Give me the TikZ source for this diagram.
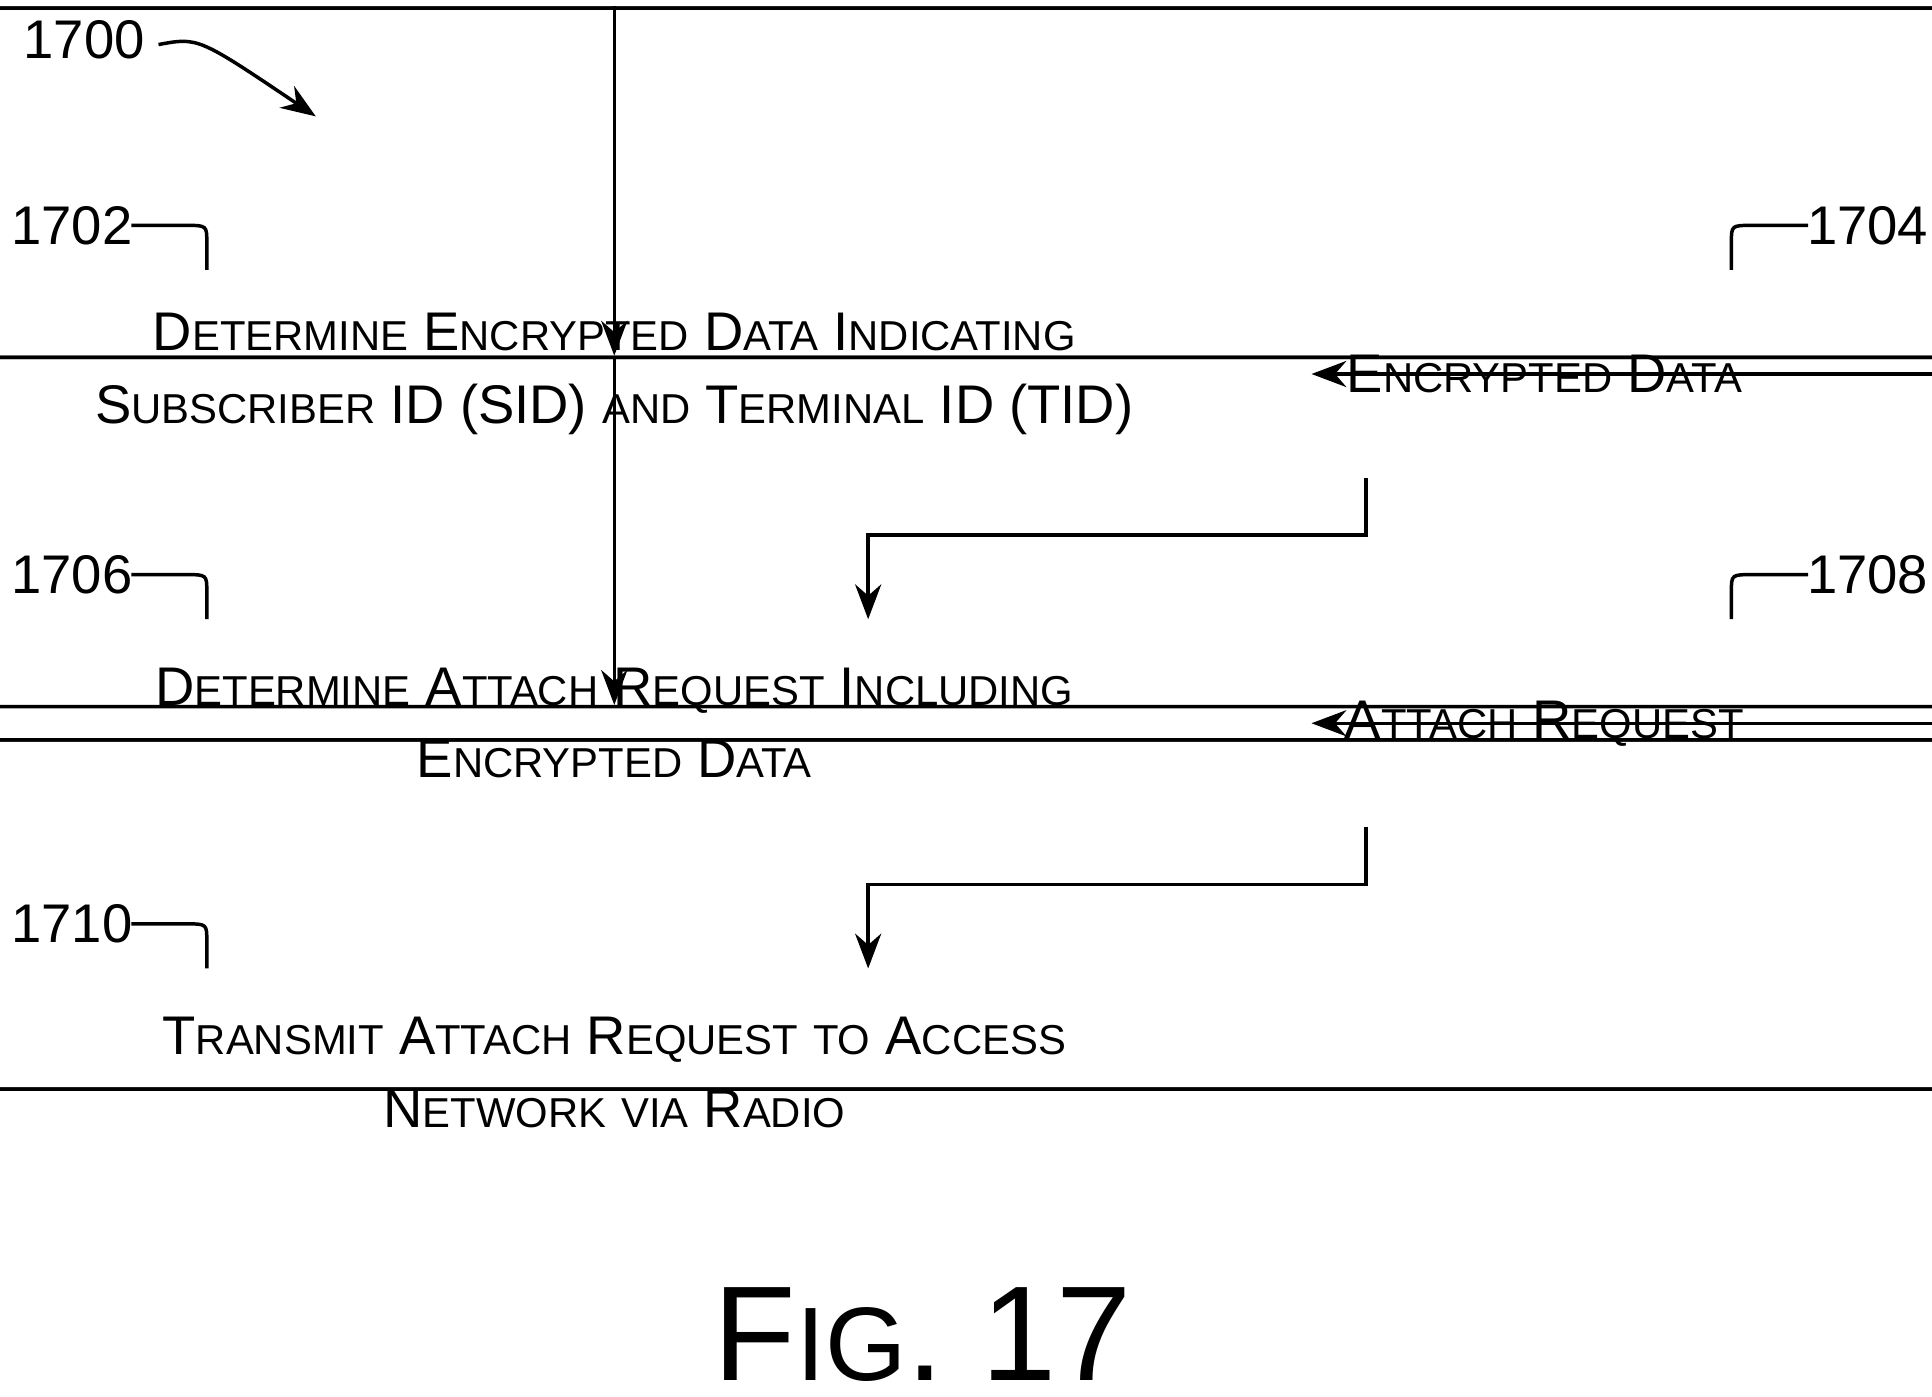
\documentclass[tikz,border=0pt]{standalone}
\usepackage{fontspec}
\setmainfont{Liberation Sans}
\usetikzlibrary{positioning,shapes.geometric,arrows.meta}
\newcommand{\smc}[2]{#1{\fontsize{9.6}{11}\selectfont #2}}
\begin{document}
\begin{tikzpicture}[x=0.01cm,y=-0.01cm,
    proc/.style={draw,thick,rounded corners=10,minimum width=822,minimum height=168,align=center,font=\fontsize{12.5}{14.6}\selectfont},
    data/.style={draw,thick,trapezium,trapezium left angle=64,trapezium right angle=116,minimum width=459,minimum height=168,inner sep=0pt,font=\fontsize{12.5}{15}\selectfont},
    flow/.style={-{Stealth[length=8pt,width=6pt]},thick},
    lbl/.style={font=\fontsize{12.5}{15}\selectfont}]
  \useasboundingbox (0,0) rectangle (1560,1128);
  % steps
  \node[proc] (s1702) at (496,302) {\smc{D}{ETERMINE} \smc{E}{NCRYPTED} \smc{D}{ATA} \smc{I}{NDICATING}\\[2pt]
    \smc{S}{UBSCRIBER} ID (SID) {\fontsize{9.6}{11}\selectfont AND} \smc{T}{ERMINAL} ID (TID)};
  \node[proc] (s1706) at (496,584) {\smc{D}{ETERMINE} \smc{A}{TTACH} \smc{R}{EQUEST} \smc{I}{NCLUDING}\\[2pt]
    \smc{E}{NCRYPTED} \smc{D}{ATA}};
  \node[proc] (s1710) at (496,866) {\smc{T}{RANSMIT} \smc{A}{TTACH} \smc{R}{EQUEST} {\fontsize{9.6}{11}\selectfont TO} \smc{A}{CCESS}\\[2pt]
    \smc{N}{ETWORK} {\fontsize{9.6}{11}\selectfont VIA} \smc{R}{ADIO}};
  % data
  \node[data] (d1704) at (1247,302) {\smc{E}{NCRYPTED} \smc{D}{ATA}};
  \node[data] (d1708) at (1247,584) {\smc{A}{TTACH} \smc{R}{EQUEST}};
  % flows
  \draw[flow] (s1702.east) -- (1059,302);
  \draw[flow] (s1706.east) -- (1059,584);
  \draw[flow] (s1702) -- (s1706);
  \draw[flow] (s1706) -- (s1710);
  \draw[flow] (1103,386) -- (1103,432) -- (701,432) -- (701,500);
  \draw[flow] (1103,668) -- (1103,714) -- (701,714) -- (701,782);
  % reference labels
  \node[lbl] (n1700) at (68,32) {1700};
  \draw[flow] (128,36) .. controls (160,30) .. (255,94);
  \foreach \n/\y in {1702/182,1706/464,1710/746}{
    \node[lbl] (n\n) at (58,\y) {\n};
    \draw[thick] (106,\y) -- (150,\y) .. controls (167,\y) .. (167,\y+14) -- (167,\y+36);
  }
  \foreach \n/\y in {1704/182,1708/464}{
    \node[lbl] (n\n) at (1508,\y) {\n};
    \draw[thick] (1460,\y) -- (1415,\y) .. controls (1398,\y) .. (1398,\y+14) -- (1398,\y+36);
  }
  \node (fig) at (745,1078) {\fontsize{31}{36}\selectfont F{\fontsize{24}{28}\selectfont IG}. 17};
\end{tikzpicture}
\end{document}
